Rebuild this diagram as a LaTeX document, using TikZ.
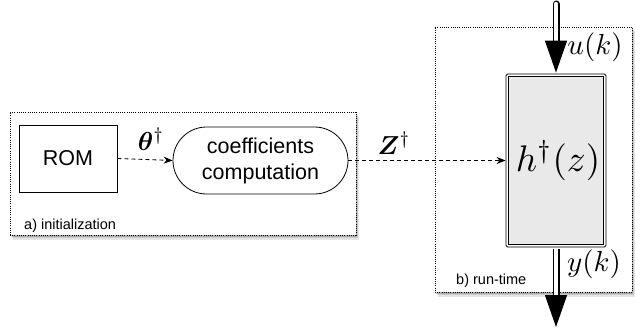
\documentclass[tikz,border=0pt]{standalone}
\usepackage{fontspec}
\setmainfont{Liberation Sans}
\usepackage{amsmath,bm,graphicx}
\usetikzlibrary{arrows.meta,shapes.misc,shadows}

\tikzset{
  softshadow/.style={
    general shadow={fill=black, opacity=0.14, shadow xshift=1pt, shadow yshift=-1.5pt},
    general shadow={fill=black, opacity=0.12, shadow xshift=2pt, shadow yshift=-3pt},
    general shadow={fill=black, opacity=0.10, shadow xshift=3pt, shadow yshift=-4.5pt}},
  stagebox/.style={draw, line width=0.8pt, dash pattern=on 1pt off 1.2pt, fill=white,
    softshadow, inner sep=0pt},
  block/.style={draw, line width=0.8pt, inner sep=0pt, align=center, font=\fontsize{21.5}{26}\selectfont},
  dasharrow/.style={line width=0.8pt, dash pattern=on 4pt off 3pt, -{Stealth[length=9pt,width=7pt]}},
  bigflow/.style={line width=1.3pt, double=white, double distance=4.4pt, line cap=round,
    -{Triangle[length=32pt,width=22pt]}},
  stagelabel/.style={font=\fontsize{14.5}{17}\selectfont, anchor=west, inner sep=0pt},
  sig/.style={inner sep=0pt}
}
\newcommand{\bigmath}[2]{\scalebox{#1}{$#2$}}

\begin{document}
\begin{tikzpicture}[x=1pt,y=-1pt]
  \useasboundingbox (0,0) rectangle (635,329);

  % stage frames
  \node[stagebox, minimum width=346pt, minimum height=123pt] (init) at (183,173.5) {};
  \node[stagebox, minimum width=197pt, minimum height=265pt] (run) at (533.5,159.5) {};
  \node[stagelabel] (initlbl) at (24,226) {a) initialization};
  \node[stagelabel] (runlbl) at (456,281) {b) run-time};

  % initialization blocks
  \node[block, minimum width=98pt, minimum height=67pt] (rom) at (68,158.5) {ROM};
  \node[block, rounded rectangle, minimum width=175pt, minimum height=67pt] (coef) at (260.5,160.5)
    {coefficients\\computation};

  % run-time filter: double frame with shaded core
  \node[draw, line width=0.8pt, fill=white, rounded corners=1.5pt,
        minimum width=100pt, minimum height=173pt, inner sep=0pt] (filt) at (556,160.5) {};
  \draw[line width=0.8pt, fill=gray!17] ([shift={(2.6,2.6)}]filt.north west)
    rectangle ([shift={(-2.6,-2.6)}]filt.south east);
  \node[sig] (hz) at ([xshift=2pt]filt.center) {\bigmath{3.7}{h^{\dagger}(z)}};

  % parameter flow
  \draw[dasharrow] (rom.east) -- (coef.west);
  \node[sig] (theta) at (151,139) {\bigmath{2.6}{\bm{\theta}^{\dagger}}};
  \draw[dasharrow] (coef.east) -- (coef.east -| filt.west);
  \node[sig] (zmat) at (394,143) {\bigmath{2.6}{\bm{Z}^{\dagger}}};

  % signal input and output
  \coordinate (uin) at (556,4);
  \coordinate (yout) at (556,327);
  \draw[bigflow] (uin) -- ([yshift=1pt]filt.north);
  \draw[bigflow, line cap=butt] ([yshift=-1.5pt]filt.south) -- (yout);
  \node[sig] (ulbl) at (595,47) {\bigmath{2.9}{u(k)}};
  \node[sig] (ylbl) at (594,264) {\bigmath{2.9}{y(k)}};
\end{tikzpicture}
\end{document}
